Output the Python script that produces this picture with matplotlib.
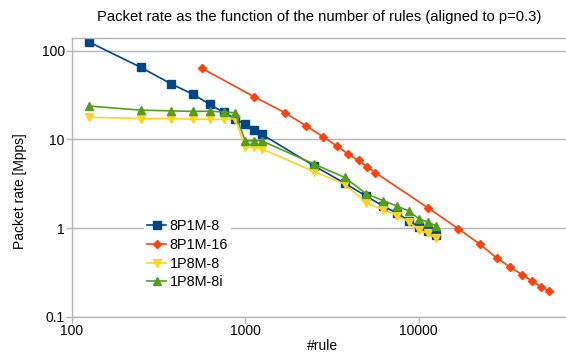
import matplotlib.pyplot as plt

plt.rcParams['font.family'] = ['Liberation Sans', 'DejaVu Sans']

# rule counts
rules_8 = [125, 250, 375, 500, 625, 750, 875, 1000, 1125, 1250,
           2500, 3750, 5000, 6250, 7500, 8750, 10000, 11250, 12500]
rules_16 = [562.5, 1125, 1687.5, 2250, 2812.5, 3375, 3937.5, 4500, 5062.5, 5625,
            11250, 16875, 22500, 28125, 33750, 39375, 45000, 50625, 56250]

# packet rates [Mpps]
p8p1m_8 = [126, 65, 42.2, 32.3, 24.9, 20.2, 17.1, 14.8, 12.8, 11.4,
           5.03, 3.21, 2.29, 1.77, 1.48, 1.22, 1.04, 0.93, 0.83]
p8p1m_16 = [63.4, 30.3, 20.1, 14.2, 10.7, 8.45, 6.81, 5.80, 4.90, 4.23,
            1.71, 0.99, 0.662, 0.463, 0.364, 0.300, 0.255, 0.220, 0.197]
p1p8m_8 = [17.8, 17.2, 17.2, 16.9, 16.9, 16.8, 17.2, 8.13, 8.17, 7.83,
           4.34, 3.13, 1.94, 1.61, 1.39, 1.19, 0.957, 0.879, 0.784]
p1p8m_8i = [23.8, 21.4, 21.0, 20.7, 20.8, 20.4, 20.0, 9.62, 9.69, 9.62,
            5.27, 3.73, 2.43, 2.05, 1.77, 1.57, 1.28, 1.18, 1.07]

fig = plt.figure(figsize=(5.66, 3.58), dpi=100)
ax = fig.add_axes([71.7/566, 1-317/358, 1-71.7/566, (317-38)/358])

ax.plot(rules_8, p8p1m_8, color='#004586', marker='s', ms=6, lw=1.2, label='8P1M-8')
ax.plot(rules_16, p8p1m_16, color='#ff420e', marker='D', ms=4, lw=1.2, label='8P1M-16')
ax.plot(rules_8, p1p8m_8, color='#ffd320', marker='v', ms=6, lw=1.2, label='1P8M-8')
ax.plot(rules_8, p1p8m_8i, color='#579d1c', marker='^', ms=6, lw=1.2, label='1P8M-8i')

ax.set_xscale('log')
ax.set_yscale('log')
ax.set_xlim(100, 10**(2 + (566-71.7)/173.5))
ax.set_ylim(0.1, 10**(2 + 12.7/88.8))
ax.set_xticks([100, 1000, 10000])
ax.set_xticklabels(['100', '1000', '10000'])
ax.set_yticks([0.1, 1, 10, 100])
ax.set_yticklabels(['0.1', '1', '10', '100'])
ax.minorticks_off()
ax.grid(axis='y', color='#b3b3b3', lw=1)
ax.set_axisbelow(True)
for s in ['left', 'bottom', 'top']:
    ax.spines[s].set_color('#b3b3b3')
    ax.spines[s].set_linewidth(1)
ax.spines['right'].set_visible(False)
ax.tick_params(colors='#b3b3b3', labelcolor='black', labelsize=10, length=4, width=1, pad=1)

ax.set_xlabel('#rule', fontsize=10)
ax.xaxis.set_label_coords(323/566, 1-346/358, transform=fig.transFigure)
ax.set_ylabel('Packet rate [Mpps]', fontsize=10)
ax.yaxis.set_label_coords(20/566, 1-191/358, transform=fig.transFigure)
ax.yaxis.label.set_verticalalignment('center')
ax.xaxis.label.set_verticalalignment('center')
ax.set_title('Packet rate as the function of the number of rules (aligned to p=0.3)',
             fontsize=10.6, pad=12)

leg = ax.legend(loc='upper left', bbox_to_anchor=(137/566, 1-209/358),
                bbox_transform=fig.transFigure, frameon=True, fontsize=10.4,
                handlelength=1.3, handletextpad=0.25, labelspacing=0.33,
                borderpad=0.2, edgecolor='none', fancybox=False)
leg.get_frame().set_facecolor('white')
leg.get_frame().set_alpha(1)

plt.savefig('out.png')
